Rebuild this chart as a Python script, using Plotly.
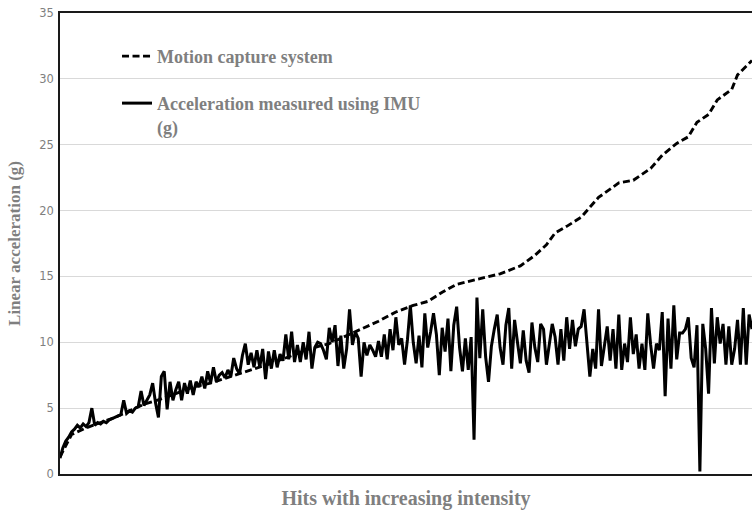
import plotly.graph_objects as go

# Hit index (category positions along the x axis)
imu_hits = list(range(1, 241))

# Acceleration measured using IMU (g), one value per hit
imu_values = [
    1.2, 2.0, 2.5, 2.8, 3.2, 3.4, 3.7, 3.5, 3.8, 3.6,
    3.9, 5.0, 3.7, 3.9, 3.8, 4.0, 3.9, 4.1, 4.2, 4.3,
    4.4, 4.5, 5.6, 4.6, 4.8, 4.7, 5.0, 5.1, 6.3, 5.2,
    5.6, 6.0, 6.9, 5.4, 4.3, 7.4, 7.8, 4.9, 7.0, 5.6,
    6.4, 7.0, 5.6, 6.9, 6.1, 7.1, 6.0, 7.0, 6.6, 7.4,
    6.5, 7.8, 6.9, 8.1, 7.0, 7.5, 7.7, 7.3, 7.9, 7.4,
    8.8, 8.0, 7.6, 9.0, 9.9, 8.3, 9.2, 8.1, 9.4, 8.1,
    9.5, 7.2, 9.3, 8.0, 9.4, 8.1, 9.1, 8.6, 10.6, 8.7,
    10.8, 8.5, 9.8, 8.5, 10.0, 8.7, 10.8, 8.0, 9.6, 10.0,
    9.9, 9.4, 8.7, 11.1, 10.0, 11.3, 8.2, 10.5, 8.0, 9.5,
    12.5, 9.8, 10.8, 10.3, 7.4, 10.0, 9.0, 9.8, 9.4, 8.9,
    10.1, 8.9, 10.6, 8.7, 11.0, 9.4, 11.9, 9.8, 10.3, 8.3,
    10.2, 12.8, 10.0, 8.4, 10.5, 8.1, 12.2, 9.6, 10.8, 12.2,
    10.6, 7.5, 11.1, 9.3, 11.8, 7.8, 11.3, 12.7, 9.6, 7.8,
    10.3, 7.9, 10.4, 2.6, 13.4, 8.8, 12.5, 8.9, 7.0, 9.7,
    11.0, 12.1, 9.6, 8.3, 11.3, 12.6, 8.0, 11.7, 10.0, 8.4,
    10.9, 8.6, 7.7, 11.5, 9.6, 8.5, 11.4, 11.0, 8.3, 9.7,
    11.4, 10.4, 8.3, 11.0, 8.6, 11.9, 9.5, 11.7, 9.7, 11.0,
    11.2, 12.5, 9.9, 7.4, 9.5, 8.0, 12.5, 8.2, 9.7, 11.2,
    8.6, 11.0, 8.0, 12.1, 7.9, 9.9, 8.5, 11.9, 9.1, 10.6,
    8.0, 9.9, 7.9, 12.2, 9.8, 8.0, 9.9, 9.4, 12.3, 5.9,
    11.8, 8.0, 12.8, 8.7, 10.7, 10.7, 11.0, 11.9, 8.8, 8.1,
    11.3, 0.2, 11.4, 9.5, 6.1, 12.6, 8.4, 11.9, 9.9, 11.4,
    8.3, 11.2, 8.3, 9.5, 11.7, 8.3, 12.6, 8.3, 12.1, 11.0,
]

# Motion capture system (g), read at selected hits
mocap_hits = [1, 3, 5, 10, 15, 20, 25, 30, 36, 41, 47, 53, 60, 67, 74, 80,
              87, 94, 99, 104, 111, 117, 123, 128, 133, 138, 146, 153, 160,
              165, 169, 172, 176, 181, 187, 194, 199, 205, 209, 214, 218,
              221, 225, 228, 233, 235, 240]
mocap_values = [1.3, 2.2, 3.0, 3.5, 3.9, 4.3, 4.8, 5.3, 5.7, 6.1, 6.6, 6.9,
                7.4, 7.9, 8.4, 8.9, 9.5, 9.9, 10.4, 10.9, 11.6, 12.3, 12.8,
                13.1, 13.8, 14.4, 14.8, 15.2, 15.8, 16.6, 17.4, 18.3, 18.8,
                19.5, 21.0, 22.1, 22.3, 23.2, 24.2, 25.1, 25.6, 26.7, 27.3,
                28.4, 29.2, 30.3, 31.4]

y_ticks = [0, 5, 10, 15, 20, 25, 30, 35]

GRAY = "#7f7f7f"
SERIF = "Liberation Serif"

fig = go.Figure()
fig.add_trace(go.Scatter(
    x=mocap_hits, y=mocap_values, mode="lines",
    name="<b>Motion capture system</b>",
    line=dict(color="black", width=2.9, dash="7px,3.5px"),
    legend="legend",
))
fig.add_trace(go.Scatter(
    x=imu_hits, y=imu_values, mode="lines",
    name="<b>Acceleration measured using IMU</b><br><b>(g)</b>",
    line=dict(color="black", width=3),
    legend="legend2",
))

legend_font = dict(family=SERIF, size=18, color=GRAY)
fig.update_layout(
    width=752, height=511,
    margin=dict(l=60, r=0, t=13, b=37),
    paper_bgcolor="white", plot_bgcolor="white",
    showlegend=True,
    legend=dict(x=0.0824, y=0.946, xanchor="left", yanchor="top",
                font=legend_font, bgcolor="rgba(0,0,0,0)", valign="top"),
    legend2=dict(x=0.0824, y=0.844, xanchor="left", yanchor="top",
                 font=legend_font, bgcolor="rgba(0,0,0,0)", valign="top"),
    xaxis=dict(
        range=[1, 240], showgrid=False, zeroline=False,
        showticklabels=False, ticks="",
        showline=True, linecolor="#1a1a1a", linewidth=1.6, mirror=True,
        title=dict(text="<b>Hits with increasing intensity</b>",
                   font=dict(family=SERIF, size=20, color=GRAY), standoff=16),
    ),
    yaxis=dict(
        range=[0, 35], tickvals=y_ticks, showgrid=True,
        gridcolor="#d9d9d9", gridwidth=1, zeroline=False,
        showline=True, linecolor="#1a1a1a", linewidth=1.6,
        ticks="", ticklabelstandoff=2,
        tickfont=dict(family="DejaVu Sans", size=11.5, color=GRAY),
        title=dict(text="<b>Linear acceleration (g)</b>",
                   font=dict(family=SERIF, size=17, color=GRAY), standoff=14),
    ),
)

fig.write_html(
    "out.html",
    config={"displayModeBar": False},
    post_script="document.body.style.margin='0';document.body.style.overflow='hidden';",
)
